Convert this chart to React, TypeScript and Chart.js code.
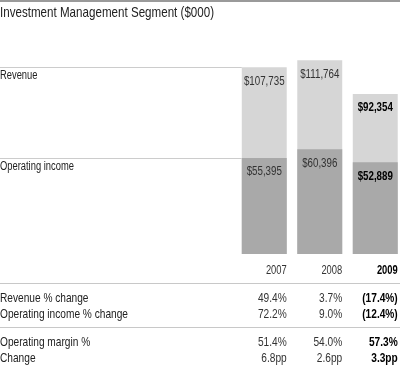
import React, { useEffect, useRef } from "react";
import { Chart, registerables } from "chart.js";

Chart.register(...registerables);

const title = "Investment Management Segment ($000)";
const years = ["2007", "2008", "2009"];
const revenue = [107735, 111764, 92354];
const operatingIncome = [55395, 60396, 52889];
const seriesNames = ["Revenue", "Operating income"];
const rowLabels = ["Revenue % change", "Operating income % change", "Operating margin %", "Change"];
const revenueChange = ["49.4%", "3.7%", "(17.4%)"];
const opIncomeChange = ["72.2%", "9.0%", "(12.4%)"];
const opMargin = ["51.4%", "54.0%", "57.3%"];
const marginChange = ["6.8pp", "2.6pp", "3.3pp"];

const FONT = "'Liberation Sans', Arial, sans-serif";
const SX = 0.78;
const fmt = (v: number) => "$" + v.toLocaleString("en-US");

function text(
  ctx: CanvasRenderingContext2D,
  s: string,
  x: number,
  y: number,
  align: CanvasTextAlign,
  size: number,
  bold: boolean,
  color: string,
  sx: number = SX
) {
  ctx.save();
  ctx.translate(x, y);
  ctx.scale(sx, 1);
  ctx.font = `${bold ? "bold " : ""}${size}px ${FONT}`;
  ctx.fillStyle = color;
  ctx.textAlign = align;
  ctx.textBaseline = "middle";
  ctx.fillText(s, 0, 0);
  ctx.restore();
}

const overlay = {
  id: "overlay",
  afterDatasetsDraw(chart: any) {
    const ctx = chart.ctx as CanvasRenderingContext2D;
    const revMeta = chart.getDatasetMeta(0);
    const opMeta = chart.getDatasetMeta(1);
    const y = chart.scales.y;
    const last = years.length - 1;
    ctx.save();
    // top rule
    ctx.fillStyle = "#9a9a9a";
    ctx.fillRect(0, 0, 400, 2);
    // title
    text(ctx, title, 0, 13, "left", 14.5, false, "#222", 0.8);

    // reference lines at 2007 levels
    const firstLeft = revMeta.data[0].x - revMeta.data[0].width / 2;
    const levels = [revenue[0], operatingIncome[0]];
    ctx.strokeStyle = "#cccccc";
    ctx.lineWidth = 1;
    levels.forEach((v, i) => {
      const py = Math.round(y.getPixelForValue(v)) + 0.5;
      ctx.beginPath();
      ctx.moveTo(0, py);
      ctx.lineTo(firstLeft, py);
      ctx.stroke();
      text(ctx, seriesNames[i], 0, py + 8, "left", 12, false, "#222");
    });

    // value labels in bars
    [revMeta, opMeta].forEach((meta: any, di: number) => {
      const vals = di === 0 ? revenue : operatingIncome;
      meta.data.forEach((el: any, j: number) => {
        text(ctx, fmt(vals[j]), el.x, el.y + 14, "center", 12.5, j === last, j === last ? "#000" : "#333");
      });
    });

    // table
    const rights = revMeta.data.map((el: any) => el.x + el.width / 2);
    const drawRow = (label: string | null, vals: string[], py: number, size: number) => {
      if (label) text(ctx, label, 0, py, "left", 13, false, "#222");
      vals.forEach((s, j) => {
        text(ctx, s, rights[j], py, "right", size, j === last, j === last ? "#000" : "#333");
      });
    };
    drawRow(null, years, 271, 12);
    ctx.strokeStyle = "#c8c8c8";
    [283.5, 327.5].forEach((py) => {
      ctx.beginPath();
      ctx.moveTo(0, py);
      ctx.lineTo(400, py);
      ctx.stroke();
    });
    drawRow(rowLabels[0], revenueChange, 298, 13);
    drawRow(rowLabels[1], opIncomeChange, 314, 13);
    drawRow(rowLabels[2], opMargin, 342, 13);
    drawRow(rowLabels[3], marginChange, 358, 13);
    ctx.restore();
  },
};

export default function App() {
  const ref = useRef<HTMLCanvasElement | null>(null);
  useEffect(() => {
    document.body.style.margin = "0";
    const chart = new Chart(ref.current!, {
      type: "bar",
      data: {
        labels: years,
        datasets: [
          {
            label: seriesNames[0],
            data: revenue,
            backgroundColor: "#d6d6d6",
            grouped: false,
            order: 2,
            barPercentage: 0.81,
            categoryPercentage: 1,
          },
          {
            label: seriesNames[1],
            data: operatingIncome,
            backgroundColor: "#a9a9a9",
            grouped: false,
            order: 1,
            barPercentage: 0.81,
            categoryPercentage: 1,
          },
        ],
      },
      options: {
        animation: false,
        responsive: true,
        maintainAspectRatio: false,
        layout: { padding: { left: 236.5, right: 0, top: 46, bottom: 113 } },
        plugins: { legend: { display: false }, tooltip: { enabled: false } },
        scales: {
          x: { display: false },
          y: { display: false, min: 0, max: 120000 },
        },
      },
      plugins: [overlay],
    });
    return () => chart.destroy();
  }, []);
  return (
    <div style={{ position: "fixed", left: 0, top: 0, width: 400, height: 367, overflow: "hidden", background: "#fff" }}>
      <div style={{ width: 403, height: 367 }}>
        <canvas ref={ref} />
      </div>
    </div>
  );
}
